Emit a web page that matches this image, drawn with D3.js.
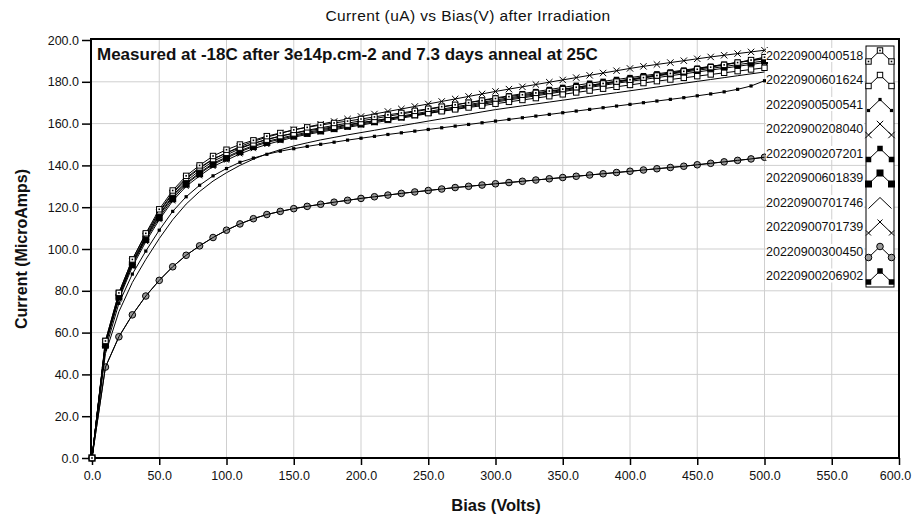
<!DOCTYPE html>
<html lang="en">
<head>
<meta charset="UTF-8">
<title>Current (uA) vs Bias(V) after Irradiation</title>
<script src="https://d3js.org/d3.v7.min.js"></script>
<style>
  body { margin: 0; background: #fff; }
  text { font-family: Arial, "Liberation Sans", sans-serif; fill: #111; }
  .grid line { stroke: #cfcfcf; stroke-width: 1; }
  .axis path { display: none; }
  .axis line { stroke: #000; stroke-width: 1.5; }
  .axis text { font-size: 12.5px; fill: #111; }
  .curve { fill: none; stroke: #000; stroke-width: 1; }
</style>
</head>
<body>
<div id="chart"></div>
<script>
// bias points (V)
const bias = [0, 10, 20, 30, 40, 50, 60, 70, 80, 90, 100, 110, 120, 130, 140, 150, 160, 170, 180, 190,
  200, 210, 220, 230, 240, 250, 260, 270, 280, 290, 300, 310, 320, 330, 340, 350, 360, 370, 380, 390,
  400, 410, 420, 430, 440, 450, 460, 470, 480, 490, 500];

// current (uA) per sensor
const i400518 = [0, 56, 79, 95, 107.5, 119, 128, 135, 140, 144.5, 147.5, 150, 152, 154, 155.5, 157, 158.2, 159.3, 160.3, 161.2,
  162.2, 163.2, 164.2, 165.1, 166.1, 167.1, 168.1, 169, 170, 171, 172, 172.9, 173.8, 174.7, 175.6, 176.5, 177.4, 178.3, 179.2, 180.1,
  181, 182, 183, 184, 185, 186, 187, 188.1, 189.2, 190.4, 191.8];
const i601624 = [0, 56, 79, 95, 107, 118, 127, 134, 139, 143, 146, 148.5, 150.5, 152.3, 154, 155.3, 156.5, 157.5, 158.5, 159.5,
  160.5, 161.4, 162.3, 163.2, 164.1, 165, 165.9, 166.8, 167.7, 168.6, 169.5, 170.4, 171.3, 172.2, 173.1, 174, 174.9, 175.8, 176.7, 177.6,
  178.5, 179.4, 180.3, 181.1, 181.9, 182.7, 183.5, 184.3, 185.1, 185.9, 186.7];
const i500541 = [0, 52, 74, 88, 99, 109, 118, 125, 130.5, 135, 138.5, 141.5, 143.5, 145.3, 146.8, 148, 149.1, 150.1, 151.1, 152.1,
  153, 153.9, 154.8, 155.6, 156.4, 157.2, 158, 158.8, 159.6, 160.4, 161.2, 162, 162.8, 163.6, 164.4, 165.2, 166, 166.8, 167.6, 168.4,
  169.2, 170, 170.8, 171.6, 172.4, 173.3, 174.2, 175.2, 176.4, 178, 180.5];
const i208040 = [0, 55, 78, 94, 106, 117.5, 126.5, 133.5, 138.5, 143, 146, 149, 151.5, 153.5, 155.3, 157, 158.4, 159.7, 161, 162.2,
  163.4, 164.6, 165.8, 167, 168.2, 169.4, 170.6, 171.8, 173, 174.2, 175.4, 176.5, 177.6, 178.7, 179.8, 180.9, 182, 183.1, 184.2, 185.3,
  186.4, 187.4, 188.3, 189.2, 190.1, 191, 191.9, 192.7, 193.5, 194.3, 195.1];
const i207201 = [0, 55, 77, 93, 105, 116, 125, 131.5, 136.5, 141, 144, 147, 149.5, 151.5, 153, 154.5, 155.8, 157, 158.1, 159.2,
  160.3, 161.4, 162.5, 163.6, 164.7, 165.8, 166.9, 168, 169.1, 170.2, 171.3, 172.3, 173.3, 174.3, 175.3, 176.3, 177.3, 178.3, 179.3, 180.3,
  181.3, 182.3, 183.3, 184.3, 185.3, 186.3, 187.3, 188.3, 189.3, 190.3, 191.3];
const i601839 = [0, 54, 77, 92.5, 104.5, 115, 124, 131, 136, 140.5, 143.5, 146.5, 149, 151, 152.5, 154, 155.3, 156.5, 157.6, 158.7,
  159.8, 160.9, 162, 163.1, 164.2, 165.3, 166.4, 167.5, 168.6, 169.7, 170.8, 171.8, 172.8, 173.8, 174.8, 175.8, 176.8, 177.8, 178.8, 179.8,
  180.8, 181.8, 182.8, 183.7, 184.6, 185.5, 186.4, 187.3, 188.2, 189.1, 190];
const i701746 = [0, 50, 70, 84, 95, 105, 114, 121.5, 127.5, 132.5, 136.5, 140, 143, 145.5, 147.5, 149.3, 150.8, 152.2, 153.4, 154.6,
  155.7, 156.8, 157.9, 159, 160.1, 161.2, 162.3, 163.4, 164.5, 165.6, 166.7, 167.6, 168.5, 169.4, 170.3, 171.2, 172.1, 173, 173.9, 174.8,
  175.7, 176.6, 177.5, 178.4, 179.3, 180.2, 181.1, 182, 182.9, 183.8, 184.7];
const i701739 = [0, 54, 76, 91.5, 103.5, 114, 123, 130, 135, 139.5, 142.5, 145.5, 148, 150, 151.8, 153.5, 154.8, 156, 157.1, 158.2,
  159.3, 160.4, 161.5, 162.6, 163.7, 164.8, 165.9, 167, 168.1, 169.2, 170.3, 171.3, 172.3, 173.3, 174.3, 175.3, 176.3, 177.3, 178.3, 179.3,
  180.2, 181.1, 182, 182.9, 183.8, 184.7, 185.6, 186.5, 187.4, 188.3, 189.2];
const i300450 = [0, 43.5, 58, 68.5, 77.5, 85, 91.5, 97, 101.5, 105.5, 109, 112, 114.5, 116.5, 118, 119.3, 120.4, 121.4, 122.4, 123.3,
  124.2, 125, 125.8, 126.6, 127.3, 128, 128.7, 129.4, 130, 130.6, 131.2, 131.8, 132.4, 133, 133.6, 134.2, 134.8, 135.4, 136, 136.6,
  137.2, 137.8, 138.4, 139, 139.6, 140.3, 141, 141.7, 142.4, 143.1, 143.9];
const i206902 = [0, 55, 78, 93.5, 105.5, 116.5, 125.5, 132.5, 137.5, 142, 145, 148, 150.5, 152.5, 154, 155.5, 156.8, 158, 159.1, 160.2,
  161.3, 162.4, 163.5, 164.6, 165.7, 166.8, 167.9, 169, 170.1, 171.2, 172.3, 173.3, 174.3, 175.3, 176.3, 177.3, 178.3, 179.3, 180.2, 181.1,
  182, 182.9, 183.8, 184.7, 185.6, 186.5, 187.4, 188.3, 189.2, 190.1, 191];

const names = ["20220900400518", "20220900601624", "20220900500541", "20220900208040", "20220900207201",
  "20220900601839", "20220900701746", "20220900701739", "20220900300450", "20220900206902"];
const currents = [i400518, i601624, i500541, i208040, i207201, i601839, i701746, i701739, i300450, i206902];
const markerTypes = ["openSquareDot", "openSquare", "dot", "cross", "square", "bigSquare", "none", "smallCross", "circle", "square"];

const xTicks = [0, 50, 100, 150, 200, 250, 300, 350, 400, 450, 500, 550, 600];
const yTicks = [0, 20, 40, 60, 80, 100, 120, 140, 160, 180, 200];

const width = 914, height = 517;
const svg = d3.select("#chart").append("svg")
  .attr("width", width)
  .attr("height", height);

const x = d3.scaleLinear().domain([0, 600]).range([92, 899]);
const y = d3.scaleLinear().domain([0, 200]).range([458, 40]);

// grid
svg.append("g").attr("class", "grid")
  .selectAll("line.v").data(xTicks.slice(1, -1)).join("line")
  .attr("x1", d => x(d)).attr("x2", d => x(d))
  .attr("y1", y(200)).attr("y2", y(0));
svg.append("g").attr("class", "grid")
  .selectAll("line.h").data(yTicks.slice(1, -1)).join("line")
  .attr("x1", x(0)).attr("x2", x(600))
  .attr("y1", d => y(d)).attr("y2", d => y(d));

// axes
svg.append("g").attr("class", "axis")
  .attr("transform", `translate(${x(0) - 1},0)`)
  .call(d3.axisLeft(y).tickValues(yTicks).tickFormat(d3.format(".1f")).tickSize(9).tickPadding(3));
const xAxis = svg.append("g").attr("class", "axis")
  .attr("transform", `translate(0,${y(0)})`)
  .call(d3.axisBottom(x).tickValues(xTicks).tickFormat(d3.format(".1f")).tickSize(7).tickPadding(6));
// keep the last label inside the window
xAxis.selectAll(".tick text").filter(d => d === 600).attr("dx", "-4");

// frame
svg.append("rect")
  .attr("x", x(0) - 1).attr("y", y(200) - 1)
  .attr("width", x(600) - x(0) + 1).attr("height", y(0) - y(200) + 1)
  .attr("fill", "none").attr("stroke", "#000").attr("stroke-width", 2);

// marker painter
function drawMarker(g, type, cx, cy) {
  if (type === "none") return;
  if (type === "openSquare" || type === "openSquareDot") {
    g.append("rect").attr("x", cx - 2.7).attr("y", cy - 2.7).attr("width", 5.4).attr("height", 5.4)
      .attr("fill", "#fff").attr("stroke", "#000").attr("stroke-width", 1);
    if (type === "openSquareDot")
      g.append("rect").attr("x", cx - 0.8).attr("y", cy - 0.8).attr("width", 1.6).attr("height", 1.6).attr("fill", "#000");
  } else if (type === "dot") {
    g.append("rect").attr("x", cx - 1.6).attr("y", cy - 1.6).attr("width", 3.2).attr("height", 3.2).attr("fill", "#000");
  } else if (type === "square" || type === "bigSquare") {
    const s = type === "bigSquare" ? 7 : 5.5;
    g.append("rect").attr("x", cx - s / 2).attr("y", cy - s / 2).attr("width", s).attr("height", s).attr("fill", "#000");
  } else if (type === "cross" || type === "smallCross") {
    const s = type === "cross" ? 3.2 : 2.5;
    g.append("path").attr("d", `M${cx - s},${cy - s}L${cx + s},${cy + s}M${cx - s},${cy + s}L${cx + s},${cy - s}`)
      .attr("stroke", "#000").attr("stroke-width", 1);
  } else if (type === "circle") {
    g.append("circle").attr("cx", cx).attr("cy", cy).attr("r", 3.3)
      .attr("fill", "#999").attr("stroke", "#000").attr("stroke-width", 1);
  }
}

const line = d3.line().x(d => x(d[0])).y(d => y(d[1]));

// curves, last entry drawn first so the first legend entry ends on top
for (let k = names.length - 1; k >= 0; k--) {
  const pts = bias.map((b, i) => [b, currents[k][i]]);
  const g = svg.append("g");
  g.append("path").attr("class", "curve").attr("d", line(pts));
  pts.forEach(p => drawMarker(g, markerTypes[k], x(p[0]), y(p[1])));
  if (markerTypes[k] === "circle") g.append("path").attr("class", "curve").attr("d", line(pts));
}

// legend
const legend = svg.append("g");
legend.append("rect")
  .attr("x", 866).attr("y", 46).attr("width", 28).attr("height", 241)
  .attr("fill", "#fff").attr("stroke", "#000").attr("stroke-width", 1);
names.forEach((name, i) => {
  const yc = 55 + i * 24.5;
  legend.append("rect").attr("x", 766).attr("y", yc - 7).attr("width", 98).attr("height", 14).attr("fill", "#fff");
  legend.append("text").attr("x", 766).attr("y", yc + 4.5)
    .attr("font-size", "12.5px").text(name);
  const g = legend.append("g");
  const wedge = [[868.5, yc + 6.5], [880, yc - 4.5], [891.5, yc + 6.5]];
  g.append("path").attr("d", d3.line()(wedge)).attr("fill", "none").attr("stroke", "#000");
  wedge.forEach(p => drawMarker(g, markerTypes[i], p[0], p[1]));
});

// texts
svg.append("text").attr("x", 468).attr("y", 21).attr("text-anchor", "middle")
  .attr("font-size", "15.5px").attr("letter-spacing", "0.4px").text("Current (uA) vs Bias(V) after Irradiation");
svg.append("text").attr("x", 97).attr("y", 60).attr("font-size", "17px").attr("font-weight", "bold")
  .text("Measured at -18C after 3e14p.cm-2 and 7.3 days anneal at 25C");
svg.append("text").attr("x", 496).attr("y", 511).attr("text-anchor", "middle")
  .attr("font-size", "16.5px").attr("font-weight", "bold").text("Bias (Volts)");
svg.append("text").attr("transform", "translate(27,249) rotate(-90)").attr("text-anchor", "middle")
  .attr("font-size", "16px").attr("font-weight", "bold").text("Current (MicroAmps)");
</script>
</body>
</html>
